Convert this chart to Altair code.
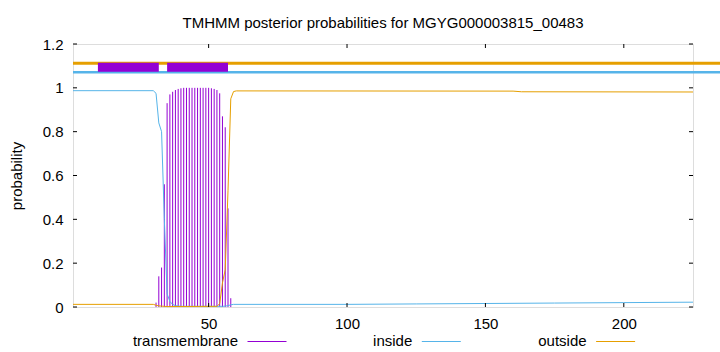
import altair as alt
import pandas as pd

TITLE = "TMHMM posterior probabilities for MGYG000003815_00483"
FONT = "Liberation Sans"

x_ticks = [50, 100, 150, 200]
y_ticks = [0, 0.2, 0.4, 0.6, 0.8, 1.0, 1.2]

# transmembrane posterior (impulses)
tm_pos = list(range(31, 59))
tm_val = [0.02, 0.14, 0.18, 0.56, 0.93, 0.97, 0.982, 0.99, 0.995, 0.998,
          1.0, 1.0, 1.0, 1.0, 1.0, 1.0, 1.0, 1.0, 1.0, 1.0,
          0.998, 0.995, 0.99, 0.975, 0.87, 0.82, 0.45, 0.04]

# inside posterior (line)
in_pos = [1, 30, 31, 32, 33, 34, 35, 36, 37, 38, 40, 55, 56, 57, 58, 59,
          100, 125, 150, 175, 200, 225]
in_val = [0.987, 0.987, 0.975, 0.84, 0.80, 0.40, 0.06, 0.025, 0.012, 0.006,
          0.003, 0.003, 0.004, 0.006, 0.01, 0.012, 0.012, 0.014, 0.016,
          0.018, 0.02, 0.022]

# outside posterior (line)
out_pos = [1, 30, 31, 32, 33, 34, 35, 53, 54, 55, 56, 57, 58, 59, 60,
           160, 163, 225]
out_val = [0.012, 0.012, 0.008, 0.005, 0.004, 0.003, 0.002, 0.003, 0.015,
           0.11, 0.17, 0.53, 0.95, 0.983, 0.986, 0.985, 0.982, 0.981]

# predicted topology strip at the top
tm_seg_start = [10, 35]
tm_seg_end = [32, 57]
strip_x = [1, 240]

series = ["transmembrane", "inside", "outside"]
palette = ["#9400D3", "#56B4E9", "#E69F00"]
colors = dict(zip(series, palette))

W, H = 620, 263
xs = alt.Scale(domain=[1, 225], nice=False, zero=False)
ys = alt.Scale(domain=[0, 1.2], nice=False, zero=False)
cs = alt.Scale(domain=series, range=palette)

tm_df = pd.DataFrame({"pos": tm_pos, "p": tm_val})
in_df = pd.DataFrame({"pos": in_pos, "p": in_val})
out_df = pd.DataFrame({"pos": out_pos, "p": out_val})
seg_df = pd.DataFrame({"start": tm_seg_start, "end": tm_seg_end})
strip_df = pd.DataFrame({"x0": [strip_x[0]], "x1": [strip_x[1]]})
leg_df = pd.DataFrame({"name": series, "idx": list(range(len(series)))})

xaxis = alt.Axis(values=x_ticks, ticks=False, tickSize=0, domain=False, grid=False,
                 labelFont=FONT, labelFontSize=15, labelColor="black",
                 labelPadding=9, title=None)
yaxis = alt.Axis(values=y_ticks, ticks=False, tickSize=0, domain=False, grid=False,
                 format="~g", labelFont=FONT, labelFontSize=15, labelColor="black",
                 labelPadding=10, title="probability", titleFont=FONT,
                 titleFontSize=15, titleFontWeight="normal", titleColor="black",
                 titleAngle=270, titleX=-57, titleY=H / 2, titleBaseline="middle",
                 titleAlign="center")

impulses = alt.Chart(tm_df).mark_rule(color=colors["transmembrane"], strokeWidth=1).encode(
    x=alt.X("pos:Q", scale=xs, axis=xaxis),
    y=alt.Y("p:Q", scale=ys, axis=yaxis),
    y2=alt.datum(0),
)

inside_line = alt.Chart(in_df).mark_line(color=colors["inside"], strokeWidth=1).encode(
    x=alt.X("pos:Q", scale=xs), y=alt.Y("p:Q", scale=ys))
outside_line = alt.Chart(out_df).mark_line(color=colors["outside"], strokeWidth=1).encode(
    x=alt.X("pos:Q", scale=xs), y=alt.Y("p:Q", scale=ys))

orange_strip = alt.Chart(strip_df).mark_rule(color=colors["outside"], strokeWidth=3).encode(
    x=alt.X("x0:Q", scale=xs), x2="x1:Q", y=alt.datum(1.112))
blue_strip = alt.Chart(strip_df).mark_rule(color=colors["inside"], strokeWidth=2.5).encode(
    x=alt.X("x0:Q", scale=xs), x2="x1:Q", y=alt.datum(1.071))
boxes = alt.Chart(seg_df).mark_rect(color=colors["transmembrane"]).encode(
    x=alt.X("start:Q", scale=xs), x2="end:Q",
    y=alt.datum(1.0735), y2=alt.datum(1.1147))

tick_df = pd.DataFrame({"v": y_ticks})
xtick_df = pd.DataFrame({"v": x_ticks})
tl = 4
tick_layers = [
    alt.Chart(tick_df).mark_rule(color="black", strokeWidth=1).encode(
        y=alt.Y("v:Q", scale=ys), x=alt.value(0), x2=alt.value(tl)),
    alt.Chart(tick_df).mark_rule(color="black", strokeWidth=1).encode(
        y=alt.Y("v:Q", scale=ys), x=alt.value(W - tl), x2=alt.value(W)),
    alt.Chart(xtick_df).mark_rule(color="black", strokeWidth=1).encode(
        x=alt.X("v:Q", scale=xs), y=alt.value(H - tl), y2=alt.value(H)),
    alt.Chart(xtick_df).mark_rule(color="black", strokeWidth=1).encode(
        x=alt.X("v:Q", scale=xs), y=alt.value(0), y2=alt.value(tl)),
]

# legend below the plot (gnuplot style: label then line sample)
leg_base = alt.Chart(leg_df).transform_calculate(
    tx="165 + datum.idx * 174.3",
    lx0="174.5 + datum.idx * 174.3",
    lx1="213.5 + datum.idx * 174.3",
)
leg_text = leg_base.mark_text(font=FONT, fontSize=15, align="right",
                              baseline="alphabetic", color="black").encode(
    text="name:N", x=alt.X("tx:Q", scale=None), y=alt.value(302))
leg_line = leg_base.mark_rule(strokeWidth=1).encode(
    x=alt.X("lx0:Q", scale=None), x2="lx1:Q", y=alt.value(297.5),
    color=alt.Color("name:N", scale=cs, legend=None))

chart = alt.layer(
    impulses, inside_line, outside_line, orange_strip, blue_strip, boxes,
    *tick_layers, leg_text, leg_line
).properties(
    width=W, height=H,
    title=alt.TitleParams(TITLE, font=FONT, fontSize=15, fontWeight="normal",
                          color="black", anchor="middle", frame="group",
                          baseline="alphabetic", offset=-6),
    padding={"left": 73, "top": 44, "right": 27, "bottom": 45},
    autosize=alt.AutoSizeParams(type="none"),
).configure_view(stroke="black", strokeWidth=1).configure(background="white")

chart.save("out.html", embed_options={"renderer": "svg", "actions": False})
